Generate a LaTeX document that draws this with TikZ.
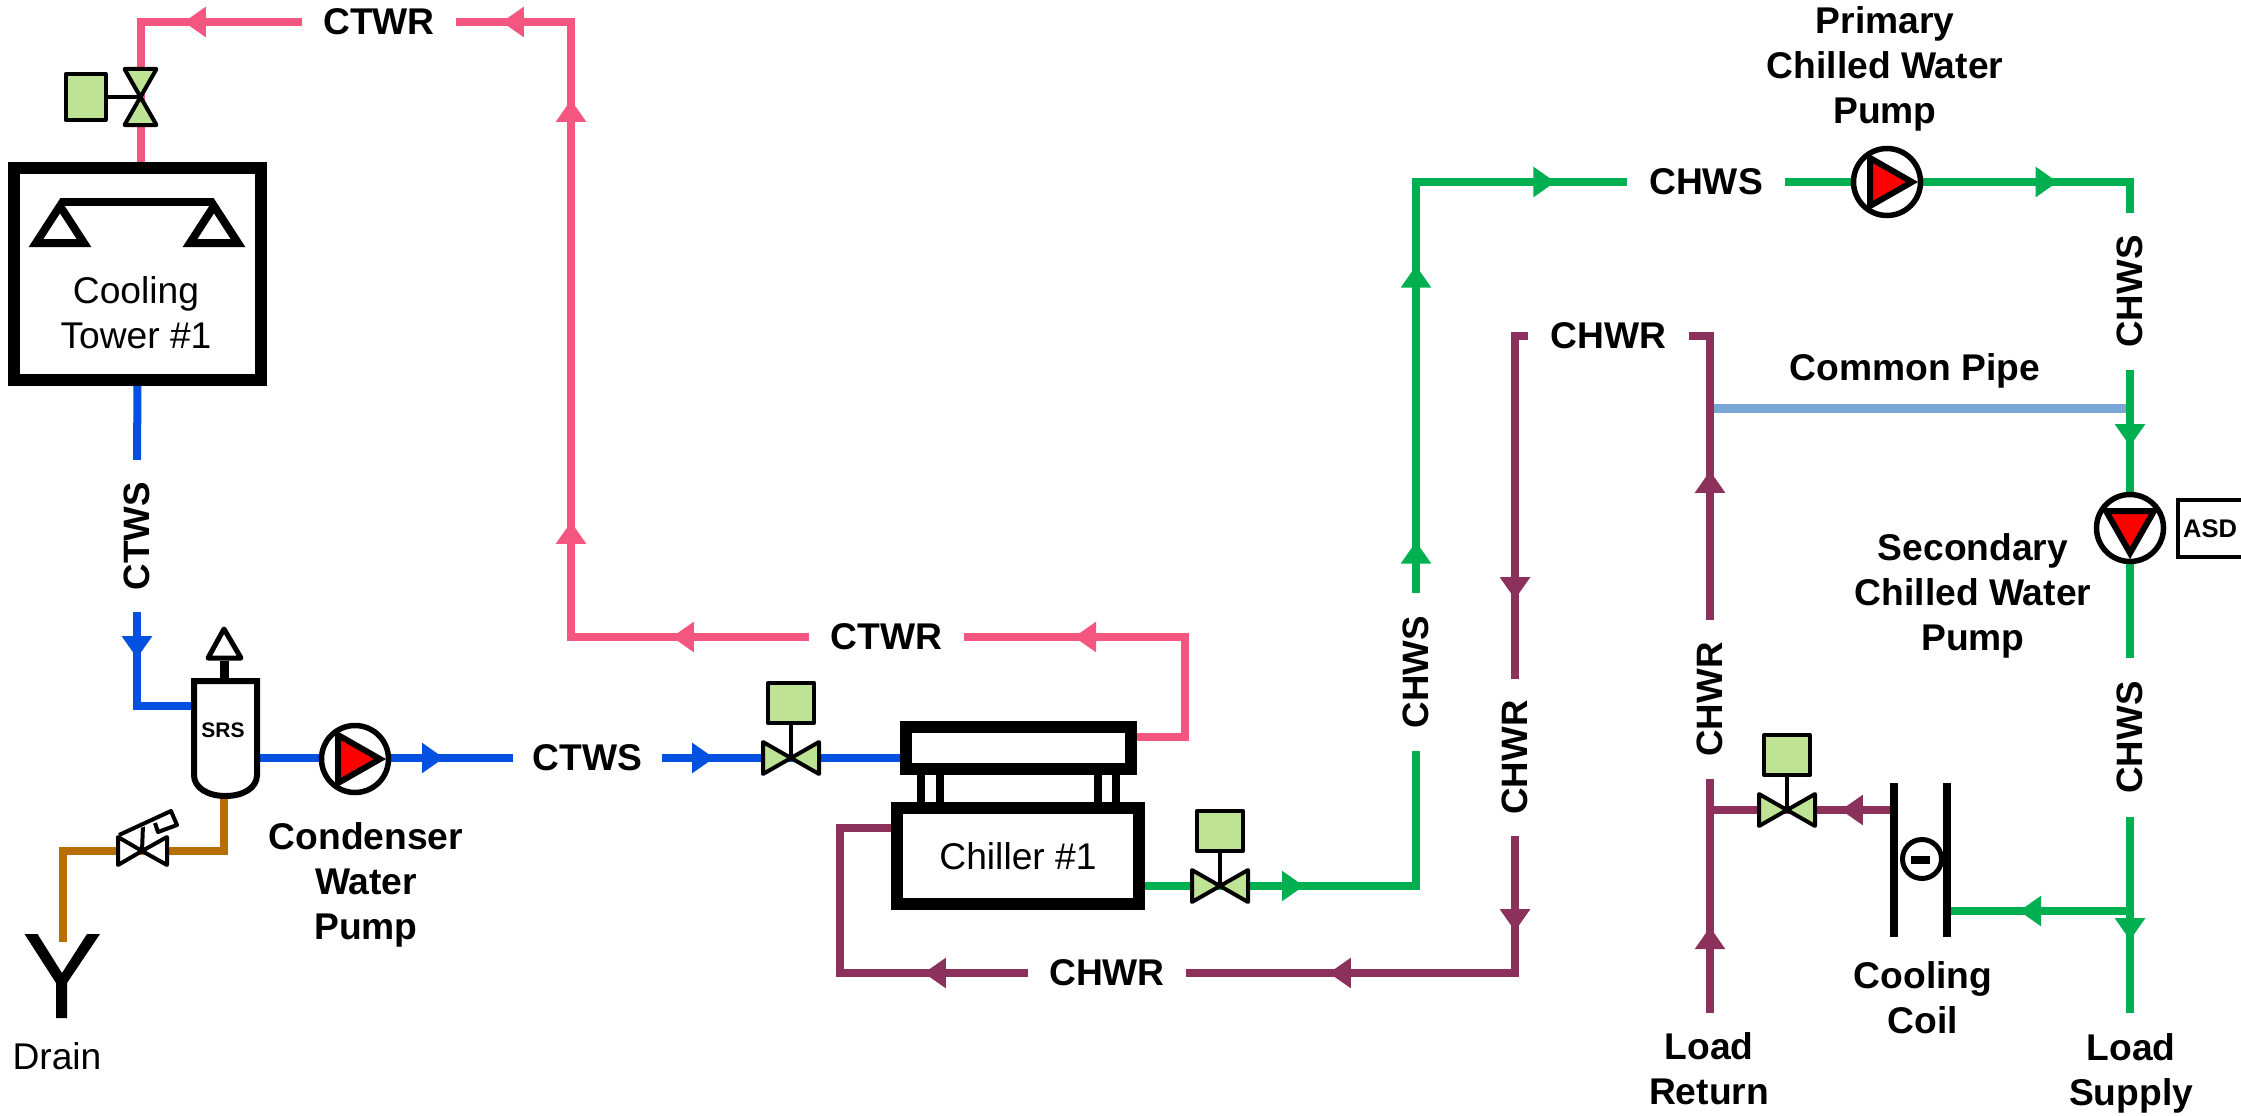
\documentclass[tikz,border=0pt]{standalone}
\usepackage{fontspec}
\setmainfont{Liberation Sans}
\definecolor{CtwrColor}{RGB}{244,86,128}
\definecolor{CtwsColor}{RGB}{4,80,224}
\definecolor{ChwsColor}{RGB}{0,176,80}
\definecolor{ChwrColor}{RGB}{139,49,92}
\definecolor{DrainColor}{RGB}{184,110,0}
\definecolor{CommonColor}{RGB}{122,166,214}
\definecolor{ActuatorColor}{RGB}{191,227,149}
\usetikzlibrary{arrows.meta, decorations.markings}
\newcommand{\LabelSize}{\fontsize{37.2}{45}\selectfont}
\tikzset{
  pipe/.style={line width=8pt},
  ctwr/.style={pipe, draw=CtwrColor},
  ctws/.style={pipe, draw=CtwsColor},
  chws/.style={pipe, draw=ChwsColor},
  chwr/.style={pipe, draw=ChwrColor},
  flow/.style={postaction={decorate, decoration={markings, mark=at position #1 with {\arrow{Triangle[length=22pt, width=29pt]}}}}},
  vessel/.style={draw, fill=white, line width=12pt, inner sep=0pt, font=\LabelSize},
  tag/.style={inner sep=0pt, font=\LabelSize\bfseries},
  risertag/.style={inner sep=0pt, rotate=90, font=\fontsize{36.7}{45}\selectfont\bfseries},
  plain/.style={inner sep=0pt, font=\LabelSize, align=center},
  title/.style={inner sep=0pt, font=\LabelSize\bfseries, align=center},
  actuator/.style={draw, fill=ActuatorColor, line width=4pt, line join=round, inner sep=0pt, minimum width=46pt, minimum height=40pt},
  bowtie/.style={draw, fill=ActuatorColor, line width=4pt, line join=round},
  coilbar/.style={fill=black, inner sep=0pt, minimum width=8pt, minimum height=154pt},
  valve/.pic={
    \node[actuator, transform shape] (-act) at (0,-55) {};
    \draw[line width=4pt] (-act.south) -- (0,0);
    \draw[bowtie] (0,0) -- (-28,-16) -- (-28,16) -- cycle;
    \draw[bowtie] (0,0) -- (28,-16) -- (28,16) -- cycle;
  },
  pump/.pic={
    \draw[line width=5.5pt, fill=white] (0,0) circle (33.5);
    \draw[line width=6pt, fill=red] (-17,-24) -- (-17,24) -- (25,0) -- cycle;
  },
}

\begin{document}
\begin{tikzpicture}[x=1pt, y=-1pt]
  \useasboundingbox (0,0) rectangle (2241,1116);

  % equipment that the pipes end on
  \node[vessel, minimum width=247pt, minimum height=212pt] (tower) at (137.5,274) {};
  \node[vessel, minimum width=225pt, minimum height=42pt] (condBox) at (1018.5,748) {};
  \node[vessel, minimum width=242pt, minimum height=96pt] (chiller) at (1018,856) {Chiller \#1};
  \foreach \x in {921,940,1097.5,1116}
    \draw[line width=8pt] (\x,775) -- (\x,802);
  \node[coilbar] (coilL) at (1894,860) {};
  \node[coilbar] (coilR) at (1947,860) {};

  % pipe labels, as wide as the gap in their pipe
  \node[tag, minimum width=154pt] (ctwrTop) at (379,22) {CTWR};
  \node[tag, minimum width=155pt] (ctwrMid) at (886.5,637) {CTWR};
  \node[risertag, minimum width=152pt] (ctwsDown) at (137,536) {CTWS};
  \node[tag, minimum width=149pt] (ctwsOut) at (587.5,758) {CTWS};
  \node[risertag, minimum width=158.5pt] (chwsUp) at (1416,672) {CHWS\hspace{6pt}};
  \node[tag, minimum width=157pt] (chwsTop) at (1706,182) {CHWS\hspace{8pt}};
  \node[risertag, minimum width=157pt] (chwsDrop) at (2130,291.5) {CHWS\hspace{7pt}};
  \node[risertag, minimum width=159pt] (chwsLoad) at (2130,737.5) {CHWS\hspace{9pt}};
  \node[tag, minimum width=158pt] (chwrBot) at (1107,973) {CHWR};
  \node[risertag, minimum width=157pt] (chwrFall) at (1515,757.5) {CHWR};
  \node[tag, minimum width=161pt] (chwrTop) at (1608.5,336) {CHWR};
  \node[risertag, minimum width=159pt] (chwrLoad) at (1710,699.5) {CHWR};

  \coordinate (vTower) at (140.5,97);
  \coordinate (vCond) at (791,758);
  \coordinate (vChw) at (1220,886);
  \coordinate (vLoad) at (1787,810);
  \coordinate (vDrain) at (142,851);
  \coordinate (ctwrRise) at (571,22);
  \coordinate (condOut) at (1185,737);
  \coordinate (srsIn) at (191,706);
  \coordinate (srsOut) at (260,758);
  \coordinate (srsDrain) at (224,799);
  \coordinate (drainEnd) at (63,942);
  \coordinate (chwrRet) at (840,828);
  \coordinate (returnEnd) at (1710,1013);
  \coordinate (supplyEnd) at (2130,1013);
  \coordinate (coilTap) at (2130,911);
  \coordinate (commonTap) at (1710,408);
  \coordinate (pumpCond) at (355,759);
  \coordinate (pumpPri) at (1887,182);
  \coordinate (pumpSec) at (2130,528);

  % condenser water
  \draw[ctwr, flow=118pt] (ctwrTop.west) -| (vTower |- tower.north);
  \draw[ctwr, flow=137pt, flow=353pt, flow=775pt, flow=922pt] (ctwrMid.west) -| (ctwrRise) -- (ctwrTop.east);
  \draw[ctwr, flow=259pt] (condBox.east |- condOut) -- (condOut) |- (ctwrMid.east);
  \draw[ctws] (tower.south) -- (ctwsDown.east);
  \draw[ctws, flow=46pt] (ctwsDown.west) |- (srsIn);
  \draw[ctws, flow=184pt] (srsOut) -- (ctwsOut.west);
  \draw[ctws, flow=52pt] (ctwsOut.east) -- (srsOut -| condBox.west);
  \draw[line width=8pt, draw=DrainColor] (srsDrain) |- (vDrain) -| (drainEnd);

  % chilled water
  \draw[line width=9pt, draw=CommonColor] (commonTap) -- (commonTap -| chwsDrop);
  \draw[chws, flow=159pt] (vChw -| chiller.east) -| (chwsUp.west);
  \draw[chws, flow=51pt, flow=327pt, flow=550pt] (chwsUp.east) |- (chwsTop.west);
  \draw[chws, flow=273pt] (chwsTop.east) -| (chwsDrop.east);
  \draw[chws, flow=76pt] (chwsDrop.west) -- (chwsLoad.east);
  \draw[chws, flow=123pt] (chwsLoad.west) -- (supplyEnd);
  \draw[chws, flow=111pt] (coilTap) -- (coilTap -| coilR.east);
  \draw[chwr, flow=95pt, flow=323pt] (chwrFall.west) |- (chwrBot.east);
  \draw[chwr, flow=104pt] (chwrBot.west) -| (chwrRet) -- (chwrRet -| chiller.west);
  \draw[chwr, flow=276pt] (chwrTop.west) -| (chwrFall.east);
  \draw[chwr, flow=86pt] (returnEnd) -- (chwrLoad.west);
  \draw[chwr, flow=149pt] (chwrLoad.east) |- (chwrTop.east);
  \draw[chwr, flow=49pt] (vLoad -| coilL.west) -- (vLoad -| returnEnd);

  % valves and pumps
  \pic[rotate=90] (vtw) at (vTower) {valve};
  \pic (vcd) at (vCond) {valve};
  \pic (vch) at (vChw) {valve};
  \pic (vld) at (vLoad) {valve};
  \pic at (pumpCond) {pump};
  \pic at (pumpPri) {pump};
  \pic[rotate=-90] at (pumpSec) {pump};

  % cooling tower fans
  \draw[line width=8pt] (60,202) -- (214,202);
  \foreach \x in {60,214}
    \draw[line width=8pt, fill=white] (\x,206) -- (\x-24,243) -- (\x+24,243) -- cycle;
  \node[plain] (towerText) at (136,313) {Cooling\\Tower \#1};

  % separator with vent
  \draw[line width=9pt] (224,661) -- (224,678);
  \draw[line width=5pt, fill=white, line join=round] (224,629) -- (241,658) -- (208,658) -- cycle;
  \draw[line width=6pt, fill=white] (194,681) -- (194,775) .. controls (194,788) and (208,796) .. (225.5,796) .. controls (243,796) and (257,788) .. (257,775) -- (257,681) -- cycle;
  \node[inner sep=0pt, font=\fontsize{21}{25}\selectfont\bfseries] (srsText) at (223,730) {SRS};

  % drain valve and drain
  \draw[line width=4pt, fill=white, line join=round] (vDrain) -- (118,837) -- (118,865) -- cycle;
  \draw[line width=4pt, fill=white, line join=round] (vDrain) -- (167,837) -- (167,865) -- cycle;
  \draw[line width=4pt] (vDrain) -- (143,825);
  \draw[line width=4pt, fill=white, line join=round] (119,835) -- (171,811) -- (177,825) -- (158,832) -- (155,823);
  \fill (24.5,934) -- (37.5,934) -- (62,973) -- (87,934) -- (100,934) -- (67,983) -- (67,1018) -- (56,1018) -- (56,983) -- cycle;
  \node[plain] (drainText) at (57,1056) {Drain};

  % cooling coil
  \draw[line width=5pt] (1922,859) circle (19.5);
  \fill (1911,855.5) rectangle (1930,864);

  % other labels
  \node[draw, line width=4pt, inner sep=0pt, minimum width=66pt, minimum height=57.5pt, font=\fontsize{25.5}{30}\selectfont\bfseries] (asd) at (2211,528.7) {\hspace{-2pt}ASD};
  \node[title] (primaryText) at (1885,69) {Primary\\Chilled Water\\Pump};
  \node[title] (secondaryText) at (1973,596) {Secondary\\Chilled Water\\Pump};
  \node[title] (condenserText) at (366,885) {Condenser\\Water\\Pump};
  \node[title] (coilText) at (1923,998) {Cooling\\Coil};
  \node[title] (returnText) at (1709,1069) {Load\\Return};
  \node[title] (supplyText) at (2131,1073) {Load\\Supply};
  \node[tag] (commonText) at (1915,371) {Common Pipe};
\end{tikzpicture}
\end{document}
